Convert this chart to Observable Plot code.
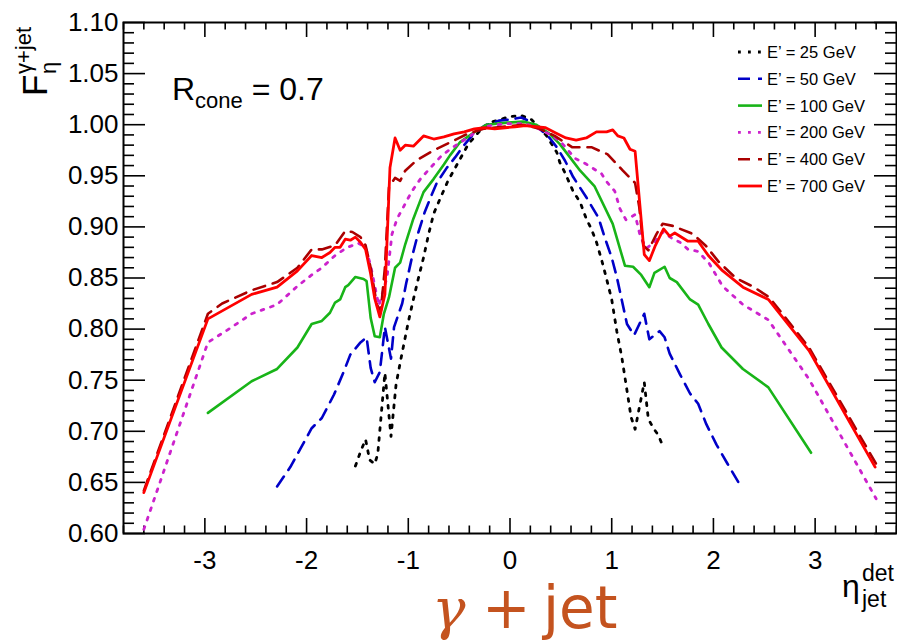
<!DOCTYPE html>
<html>
<head>
<meta charset="utf-8">
<script src="https://cdn.jsdelivr.net/npm/d3@7"></script>
<script src="https://cdn.jsdelivr.net/npm/@observablehq/plot@0.6"></script>
<style>
  body { margin: 0; background: #fff; }
  #chart { width: 897px; height: 643px; }
</style>
</head>
<body>
<div id="chart"></div>
<script>
// F_eta^{gamma+jet} versus eta_jet^det for six parton energies E'
const eta25 = [-1.52,-1.47,-1.42,-1.38,-1.33,-1.30,-1.23,-1.17,-1.12,-1.08,-1.04,-1.00,-0.95,-0.90,-0.85,-0.80,-0.75,-0.69,-0.65,-0.61,-0.56,-0.51,-0.46,-0.41,-0.34,-0.28,-0.20,-0.10,0.00,0.11,0.21,0.29,0.36,0.41,0.46,0.49,0.54,0.58,0.62,0.69,0.75,0.80,0.85,0.90,0.95,1.00,1.05,1.10,1.15,1.19,1.23,1.32,1.36,1.41,1.46,1.50];
const f25 = [0.666,0.680,0.692,0.672,0.668,0.678,0.757,0.695,0.746,0.767,0.787,0.807,0.829,0.850,0.870,0.893,0.913,0.927,0.936,0.945,0.954,0.963,0.972,0.981,0.989,0.996,1.002,1.005,1.008,1.009,1.005,0.997,0.989,0.981,0.973,0.963,0.953,0.944,0.935,0.924,0.908,0.898,0.885,0.868,0.849,0.829,0.798,0.772,0.740,0.714,0.702,0.748,0.712,0.703,0.696,0.686];

const eta50 = [-2.29,-2.16,-2.06,-1.95,-1.85,-1.73,-1.64,-1.57,-1.47,-1.41,-1.37,-1.33,-1.28,-1.23,-1.17,-1.14,-1.06,-1.02,-0.96,-0.90,-0.84,-0.78,-0.72,-0.62,-0.54,-0.46,-0.36,-0.25,-0.11,0.00,0.11,0.18,0.29,0.39,0.46,0.54,0.62,0.75,0.87,0.93,1.00,1.05,1.10,1.15,1.22,1.32,1.37,1.47,1.52,1.57,1.67,1.77,1.85,1.93,2.03,2.14,2.27];
const f50 = [0.646,0.665,0.683,0.703,0.713,0.736,0.757,0.775,0.787,0.792,0.762,0.748,0.758,0.802,0.771,0.802,0.825,0.845,0.872,0.895,0.914,0.929,0.943,0.958,0.968,0.979,0.991,0.999,1.004,1.005,1.007,1.004,0.996,0.987,0.978,0.965,0.949,0.929,0.909,0.890,0.870,0.851,0.828,0.805,0.794,0.815,0.790,0.798,0.792,0.776,0.756,0.737,0.727,0.707,0.687,0.668,0.646];

const eta100 = [-2.97,-2.54,-2.29,-2.09,-1.95,-1.85,-1.77,-1.72,-1.67,-1.62,-1.59,-1.52,-1.44,-1.41,-1.37,-1.33,-1.28,-1.24,-1.19,-1.13,-1.08,-1.03,-0.95,-0.85,-0.75,-0.65,-0.59,-0.49,-0.36,-0.23,-0.03,0.13,0.26,0.39,0.49,0.59,0.69,0.83,1.01,1.13,1.21,1.29,1.37,1.42,1.52,1.57,1.64,1.77,1.85,1.95,2.08,2.29,2.54,2.96];
const f100 = [0.718,0.749,0.761,0.782,0.805,0.808,0.816,0.826,0.829,0.841,0.843,0.851,0.849,0.847,0.811,0.793,0.792,0.815,0.831,0.860,0.865,0.883,0.908,0.934,0.947,0.961,0.970,0.983,0.992,1.000,1.002,1.003,1.000,0.991,0.981,0.968,0.955,0.940,0.903,0.862,0.861,0.853,0.841,0.855,0.861,0.850,0.846,0.829,0.824,0.805,0.782,0.761,0.743,0.679];

const eta200 = [-3.60,-2.97,-2.78,-2.54,-2.29,-2.09,-1.95,-1.85,-1.72,-1.60,-1.49,-1.42,-1.37,-1.29,-1.21,-1.16,-1.11,-1.05,-0.97,-0.88,-0.79,-0.67,-0.56,-0.42,-0.26,-0.05,0.15,0.26,0.42,0.51,0.64,0.74,0.90,0.96,1.03,1.08,1.14,1.23,1.28,1.34,1.42,1.50,1.59,1.67,1.75,1.85,1.96,2.09,2.29,2.54,2.94,3.60];
const f200 = [0.604,0.787,0.799,0.815,0.824,0.842,0.853,0.860,0.872,0.880,0.884,0.880,0.862,0.823,0.850,0.893,0.908,0.919,0.934,0.947,0.957,0.970,0.978,0.987,0.998,1.001,1.001,0.997,0.989,0.982,0.967,0.962,0.952,0.943,0.935,0.918,0.907,0.912,0.891,0.879,0.885,0.895,0.889,0.885,0.878,0.876,0.864,0.842,0.824,0.809,0.751,0.634];

const eta400 = [-3.60,-2.97,-2.83,-2.54,-2.29,-2.09,-1.95,-1.85,-1.72,-1.62,-1.55,-1.47,-1.42,-1.37,-1.31,-1.27,-1.23,-1.19,-1.13,-1.08,-1.03,-0.92,-0.75,-0.56,-0.42,-0.26,-0.07,0.13,0.29,0.44,0.61,0.80,0.96,1.11,1.23,1.27,1.31,1.36,1.44,1.50,1.60,1.80,1.93,2.05,2.22,2.40,2.55,2.94,3.60];
const f400 = [0.642,0.815,0.825,0.838,0.846,0.860,0.878,0.878,0.882,0.896,0.895,0.890,0.882,0.860,0.824,0.818,0.860,0.939,0.948,0.945,0.955,0.965,0.975,0.984,0.991,0.996,0.998,1.000,0.996,0.989,0.978,0.978,0.971,0.955,0.943,0.920,0.882,0.877,0.893,0.903,0.901,0.893,0.881,0.866,0.850,0.841,0.831,0.782,0.668];

const eta700 = [-3.60,-2.97,-2.54,-2.29,-2.09,-1.95,-1.85,-1.77,-1.72,-1.67,-1.62,-1.57,-1.52,-1.47,-1.42,-1.37,-1.33,-1.28,-1.23,-1.18,-1.13,-1.08,-1.03,-0.95,-0.85,-0.75,-0.65,-0.55,-0.45,-0.35,-0.25,-0.15,-0.05,0.05,0.15,0.25,0.35,0.45,0.55,0.65,0.75,0.85,0.95,1.01,1.06,1.12,1.18,1.23,1.32,1.37,1.43,1.51,1.57,1.62,1.75,1.85,1.95,2.08,2.29,2.54,2.94,3.59];
const f700 = [0.640,0.810,0.834,0.841,0.857,0.872,0.870,0.875,0.880,0.880,0.888,0.887,0.890,0.885,0.878,0.854,0.830,0.812,0.834,0.958,0.987,0.975,0.980,0.979,0.989,0.986,0.988,0.991,0.993,0.996,0.997,0.996,0.997,0.998,0.999,0.998,0.997,0.992,0.987,0.985,0.987,0.993,0.993,0.995,0.989,0.987,0.976,0.974,0.873,0.867,0.882,0.898,0.891,0.894,0.886,0.886,0.872,0.858,0.841,0.829,0.779,0.665];

const legendLabels = ["E\u2019 = 25 GeV", "E\u2019 = 50 GeV", "E\u2019 = 100 GeV", "E\u2019 = 200 GeV", "E\u2019 = 400 GeV", "E\u2019 = 700 GeV"];
const yTickValues = [0.60, 0.65, 0.70, 0.75, 0.80, 0.85, 0.90, 0.95, 1.00, 1.05, 1.10];
const xTickValues = [-3, -2, -1, 0, 1, 2, 3];

// line style for each energy, drawn in this order
const styles = [
  {stroke: "#000000", strokeWidth: 2.8, strokeDasharray: "2.8 7.2"},
  {stroke: "#0000c8", strokeWidth: 2.6, strokeDasharray: "12 8"},
  {stroke: "#18b418", strokeWidth: 2.6, strokeDasharray: null},
  {stroke: "#cc22cc", strokeWidth: 2.8, strokeDasharray: "2.8 7.2"},
  {stroke: "#aa0000", strokeWidth: 2.6, strokeDasharray: "12 8"},
  {stroke: "#ff0000", strokeWidth: 2.8, strokeDasharray: null}
];

const series = [[eta25, f25], [eta50, f50], [eta100, f100], [eta200, f200], [eta400, f400], [eta700, f700]]
  .map(([eta, f]) => eta.map((e, i) => ({eta: e, f: f[i]})));

const W = 897, H = 643;
const mL = 123, mR = 1, mT = 22, mB = 110;
const innerW = W - mL - mR, innerH = H - mT - mB;

// ROOT-style inward ticks on all four sides
const yMinor = d3.range(60, 111).filter(i => i % 5 !== 0).map(i => i / 100);
const xMinor = d3.range(-19, 20).filter(i => i % 5 !== 0).map(i => i / 5);
const tickStyle = {stroke: "black", strokeWidth: 1.6};

const chart = Plot.plot({
  width: W, height: H,
  marginLeft: mL, marginRight: mR, marginTop: mT, marginBottom: mB,
  x: {domain: [-3.8, 3.8]},
  y: {domain: [0.6, 1.1]},
  style: {fontFamily: "'Liberation Sans', Arial, sans-serif", fontSize: "26px", color: "black", background: "white"},
  marks: [
    Plot.tickY(yTickValues, {y: d => d, insetRight: innerW - 22, ...tickStyle}),
    Plot.tickY(yMinor, {y: d => d, insetRight: innerW - 11, ...tickStyle}),
    Plot.tickY(yTickValues, {y: d => d, insetLeft: innerW - 22, ...tickStyle}),
    Plot.tickY(yMinor, {y: d => d, insetLeft: innerW - 11, ...tickStyle}),
    Plot.tickX(xTickValues, {x: d => d, insetTop: innerH - 15, ...tickStyle}),
    Plot.tickX(xMinor, {x: d => d, insetTop: innerH - 7.5, ...tickStyle}),
    Plot.tickX(xTickValues, {x: d => d, insetBottom: innerH - 15, ...tickStyle}),
    Plot.tickX(xMinor, {x: d => d, insetBottom: innerH - 7.5, ...tickStyle}),
    Plot.axisY(yTickValues, {tickSize: 0, tickPadding: 5, tickFormat: d3.format(".2f"), label: null, fontSize: 26}),
    Plot.axisX(xTickValues, {tickSize: 0, tickPadding: 17, tickFormat: d => String(d), label: null, fontSize: 26}),
    ...series.map((rows, i) => Plot.line(rows, {x: "eta", y: "f", strokeLinejoin: "round", ...styles[i]})),
    Plot.frame({stroke: "black", strokeWidth: 2})
  ]
});

document.getElementById("chart").appendChild(chart);

// annotations: legend, cone label, axis titles, caption
const svg = d3.select(chart);
const font = "'Liberation Sans', Arial, sans-serif";
const notes = svg.append("g").attr("text-anchor", "start").attr("font-family", font).attr("fill", "black");

const legend = notes.append("g").attr("font-size", 16.5);
legendLabels.forEach((label, i) => {
  const y = 52 + i * 26.8;
  const s = styles[i];
  legend.append("line")
    .attr("x1", 738).attr("x2", 762).attr("y1", y).attr("y2", y)
    .attr("stroke", s.stroke).attr("stroke-width", s.strokeWidth)
    .attr("stroke-dasharray", s.strokeDasharray);
  legend.append("text").attr("x", 767).attr("y", y).attr("dy", "0.36em").text(label);
});

const rcone = notes.append("text").attr("x", 172).attr("y", 100).attr("font-size", 32);
rcone.append("tspan").text("R");
rcone.append("tspan").attr("font-size", 22).attr("dy", 8).text("cone");
rcone.append("tspan").attr("dy", -8).text(" = 0.7");

const ytitle = notes.append("g").attr("transform", "translate(47,96) rotate(-90)");
ytitle.append("text").attr("font-size", 35).text("F");
ytitle.append("text").attr("x", 22).attr("y", 9).attr("font-size", 22).text("\u03b7");
ytitle.append("text").attr("x", 22).attr("y", -16).attr("font-size", 22).text("\u03b3+jet");

const xtitle = notes.append("g");
xtitle.append("text").attr("x", 842).attr("y", 597).attr("font-size", 32).text("\u03b7");
xtitle.append("text").attr("x", 862).attr("y", 581).attr("font-size", 23).text("det");
xtitle.append("text").attr("x", 862).attr("y", 607).attr("font-size", 23).text("jet");

const caption = notes.append("g").attr("fill", "#c4531f");
caption.append("text").attr("x", 432).attr("y", 628)
  .attr("font-family", "'DejaVu Serif', serif").attr("font-style", "italic").attr("font-size", 56).text("\u03b3");
caption.append("text").attr("x", 482).attr("y", 628)
  .attr("font-family", "'DejaVu Sans', sans-serif").attr("font-size", 58).text("+");
caption.append("text").attr("x", 543).attr("y", 628)
  .attr("font-family", "'DejaVu Sans', sans-serif").attr("font-size", 58).text("jet");
</script>
</body>
</html>
